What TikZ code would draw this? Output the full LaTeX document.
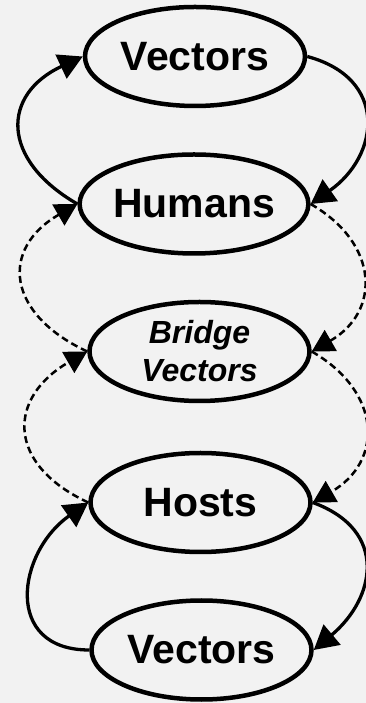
\documentclass[tikz,border=0pt]{standalone}
\usepackage{fontspec}
\setmainfont{Liberation Sans}
\usetikzlibrary{shapes.geometric,arrows.meta}
\definecolor{bg}{HTML}{F2F2F2}
\begin{document}
\begin{tikzpicture}[x=1pt,y=1pt,
  oval/.style={ellipse,draw=black,line width=4.5pt,minimum width=220pt,minimum height=99pt,inner sep=0pt,
    font=\fontsize{41}{49}\selectfont\bfseries},
  bridgeoval/.style={oval,font=\fontsize{32}{38}\selectfont\bfseries\itshape,align=center},
  solidarrow/.style={line width=3.3pt,-{Triangle[length=24pt,width=26pt]}},
  dasharrow/.style={line width=2.5pt,dash pattern=on 7pt off 4pt,-{Triangle[length=22pt,width=24pt]}}
]
\fill[bg] (0,0) rectangle (366,703);
\useasboundingbox (0,0) rectangle (366,703);
\node[oval] (v1) at (195,646.5) {Vectors};
\node[oval] (hu) at (194,499) {Humans};
\node[bridgeoval] (br) at (199.5,351.5) {Bridge\\Vectors};
\node[oval] (ho) at (200.5,200.5) {Hosts};
\node[oval] (v2) at (201.5,53) {Vectors};
% left side, upward
\draw[solidarrow] (hu.west) to[out=150,in=205,looseness=1.55] (v1.west);
\draw[dasharrow] (br.west) to[out=155,in=210,looseness=1.55] (hu.west);
\draw[dasharrow] (ho.west) to[out=155,in=210,looseness=1.55] (br.west);
\draw[solidarrow] (v2.west) to[out=180,in=215,looseness=1.5] (ho.west);
% right side, downward
\draw[solidarrow] (v1.east) to[out=-15,in=35,looseness=1.46] (hu.east);
\draw[dasharrow] (hu.east) to[out=-30,in=30,looseness=1.38] (br.east);
\draw[dasharrow] (br.east) to[out=-30,in=30,looseness=1.38] (ho.east);
\draw[solidarrow] (ho.east) to[out=-20,in=40,looseness=1.4] (v2.east);
\end{tikzpicture}
\end{document}
